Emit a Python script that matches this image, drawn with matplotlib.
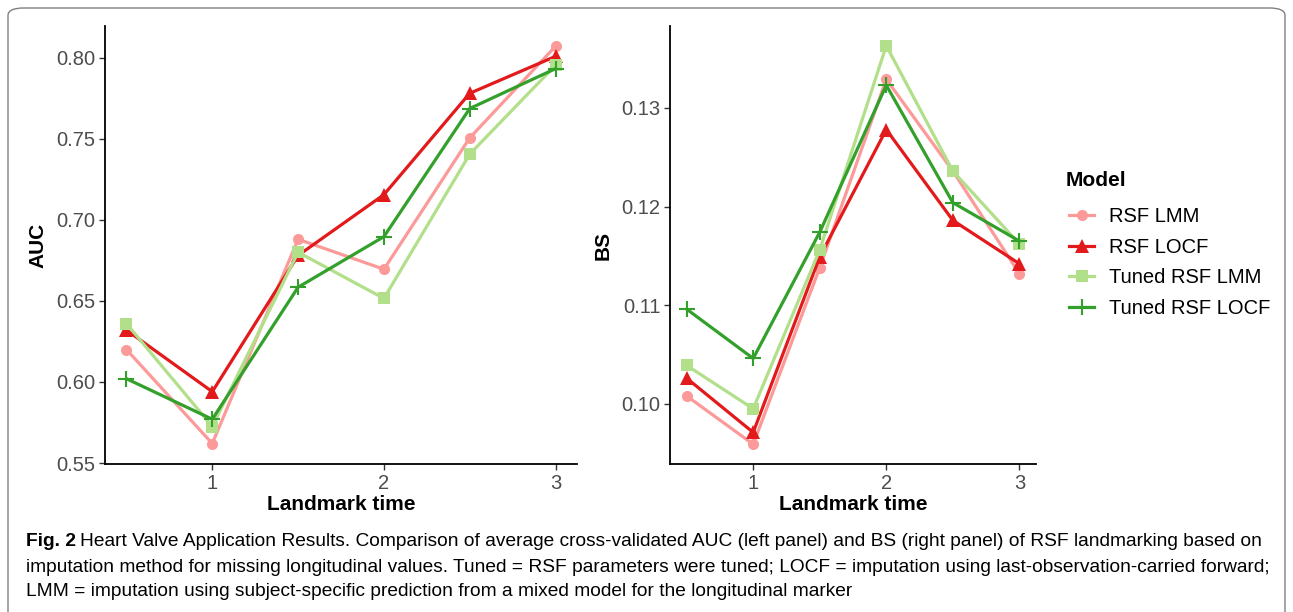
import matplotlib
matplotlib.use('Agg')
import matplotlib.pyplot as plt
from matplotlib.patches import FancyBboxPatch
from matplotlib.lines import Line2D

plt.rcParams['font.family'] = ['Liberation Sans', 'DejaVu Sans']

W, H = 1293, 612

landmark = [0.5, 1, 1.5, 2, 2.5, 3]
models = ['RSF LMM', 'RSF LOCF', 'Tuned RSF LMM', 'Tuned RSF LOCF']

auc = {
    'RSF LMM': [0.620, 0.562, 0.688, 0.6695, 0.7505, 0.807],
    'RSF LOCF': [0.632, 0.594, 0.678, 0.7155, 0.778, 0.8008],
    'Tuned RSF LMM': [0.636, 0.5725, 0.680, 0.6515, 0.7405, 0.7953],
    'Tuned RSF LOCF': [0.602, 0.577, 0.6584, 0.6896, 0.7686, 0.7932],
}
bs = {
    'RSF LMM': [0.1008, 0.0959, 0.1138, 0.1329, 0.1236, 0.1132],
    'RSF LOCF': [0.1026, 0.0971, 0.1149, 0.1278, 0.1186, 0.1142],
    'Tuned RSF LMM': [0.1039, 0.0995, 0.1156, 0.1363, 0.1236, 0.1162],
    'Tuned RSF LOCF': [0.1096, 0.1046, 0.1174, 0.1323, 0.1204, 0.1165],
}

colors = ['#FB9A99', '#E31A1C', '#B2DF8A', '#33A02C']
markers = ['o', '^', 's', '+']
msizes = [8, 10, 8, 12]

fig = plt.figure(figsize=(W / 100, H / 100), dpi=100)

# rounded frame round the whole figure
frame = FancyBboxPatch((8 / W, -0.1), (1285 - 8) / W, (H - 8) / H + 0.1,
                       boxstyle='round,pad=0,rounding_size=0.012',
                       transform=fig.transFigure, fill=False,
                       edgecolor='#808080', linewidth=1.0)
fig.patches.append(frame)


def px_axes(x0, x1, y0, y1):
    return fig.add_axes([x0 / W, (H - y1) / H, (x1 - x0) / W, (y1 - y0) / H])


ax1 = px_axes(105, 577, 26, 464)
ax2 = px_axes(670, 1036, 26, 464)

for ax, data, ylab in [(ax1, auc, 'AUC'), (ax2, bs, 'BS')]:
    for m, c, mk, ms in zip(models, colors, markers, msizes):
        ax.plot(landmark, data[m], color=c, lw=2.3, marker=mk, ms=ms,
                mew=1.5 if mk == '+' else 0, mec=c)
    ax.set_xlim(0.375, 3.125)
    ax.set_xticks([1, 2, 3])
    ax.set_xlabel('Landmark time', fontsize=15, fontweight='bold', labelpad=2)
    ax.set_ylabel(ylab, fontsize=15, fontweight='bold', labelpad=6)
    for s in ['top', 'right']:
        ax.spines[s].set_visible(False)
    for s in ['left', 'bottom']:
        ax.spines[s].set_linewidth(1.3)
    ax.tick_params(labelsize=14.5, colors='#333333', labelcolor='#4D4D4D',
                   length=4, width=1, pad=3)

ax1.set_ylim(0.5494, 0.8195)
ax1.set_yticks([0.55, 0.60, 0.65, 0.70, 0.75, 0.80])
ax1.set_yticklabels(['0.55', '0.60', '0.65', '0.70', '0.75', '0.80'])
ax2.set_ylim(0.0939, 0.1383)
ax2.set_yticks([0.10, 0.11, 0.12, 0.13])
ax2.set_yticklabels(['0.10', '0.11', '0.12', '0.13'])

# legend (title drawn separately so its gap can be set)
fig.text(1066 / W, 1 - 180 / H, 'Model', fontsize=15, fontweight='bold', va='center')
handles = [Line2D([0], [0], color=c, lw=2.3, marker=mk, ms=ms,
                  mew=1.5 if mk == '+' else 0, mec=c)
           for c, mk, ms in zip(colors, markers, msizes)]
fig.legend(handles, models, loc='upper left',
           bbox_to_anchor=(1051 / W, 1 - 189 / H), frameon=False,
           fontsize=14.5, handlelength=1.25, handletextpad=0.75,
           labelspacing=0.58)

# caption
cap_size = 13.75
t0 = fig.text(26 / W, 1 - 541 / H, 'Fig. 2', fontsize=cap_size, fontweight='bold',
              va='center')
fig.canvas.draw()
bb = t0.get_window_extent()
fig.text((bb.x1 + 4) / W, 1 - 541 / H,
         'Heart Valve Application Results. Comparison of average cross-validated AUC '
         '(left panel) and BS (right panel) of RSF landmarking based on',
         fontsize=cap_size, va='center')
fig.text(26 / W, 1 - 567 / H,
         'imputation method for missing longitudinal values. Tuned = RSF parameters were '
         'tuned; LOCF = imputation using last-observation-carried forward;',
         fontsize=cap_size, va='center')
fig.text(26 / W, 1 - 592 / H,
         'LMM = imputation using subject-specific prediction from a mixed model for the '
         'longitudinal marker',
         fontsize=cap_size, va='center')

fig.savefig('out.png', dpi=100)
